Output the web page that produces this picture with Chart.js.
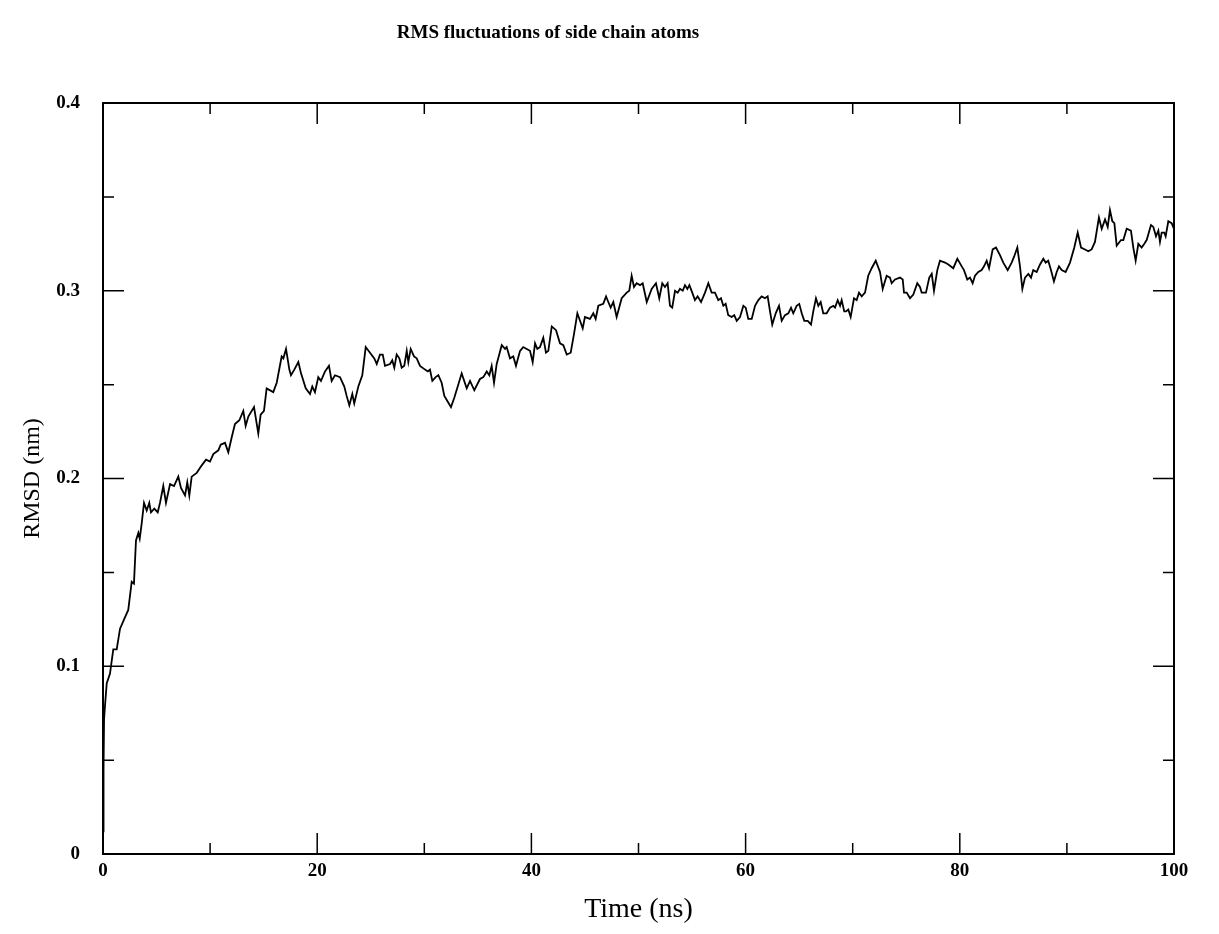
<!DOCTYPE html>
<html>
<head>
<meta charset="utf-8">
<script src="https://cdn.jsdelivr.net/npm/chart.js@4"></script>
<style>
  html, body { margin: 0; padding: 0; background: #fff; }
</style>
</head>
<body>
<canvas id="chart" width="1219" height="934"></canvas>
<script>
const chartTitle = "RMS fluctuations of side chain atoms"
const xTitle = "Time (ns)"
const yTitle = "RMSD (nm)"

const xMajorTicks = [0, 20, 40, 60, 80, 100]
const xMinorTicks = [10, 30, 50, 70, 90]
const yMajorTicks = [0, 0.1, 0.2, 0.3, 0.4]
const yMinorTicks = [0.05, 0.15, 0.25, 0.35]
const yTickLabels = ["0", "0.1", "0.2", "0.3", "0.4"]

// time (ns) and RMSD (nm)
const timeNs = [
  0, 0.05, 0.1, 0.2, 0.35, 0.65, 0.96, 1.28, 1.59, 2.05,
  2.36, 2.68, 2.89, 3.08, 3.3, 3.43, 3.61, 3.83, 4.08, 4.32,
  4.48, 4.79, 5.11, 5.32, 5.63, 5.88, 6.26, 6.63, 7.03, 7.28,
  7.66, 7.87, 8.06, 8.28, 8.75, 9.22, 9.62, 9.99, 10.3, 10.77,
  10.99, 11.39, 11.7, 12.02, 12.32, 12.73, 13.1, 13.32, 13.57, 14.1,
  14.5, 14.72, 15.03, 15.28, 15.9, 16.22, 16.68, 16.84, 17.09, 17.4,
  17.55, 17.86, 18.24, 18.49, 18.93, 19.33, 19.54, 19.79, 20.1, 20.35,
  20.73, 21.1, 21.35, 21.66, 22.13, 22.53, 22.75, 23, 23.28, 23.46,
  23.84, 24.21, 24.53, 24.93, 25.33, 25.56, 25.86, 26.12, 26.33, 26.8,
  27.01, 27.2, 27.42, 27.67, 27.89, 28.13, 28.36, 28.51, 28.73, 29.04,
  29.29, 29.6, 30.07, 30.32, 30.53, 30.75, 31.06, 31.31, 31.62, 31.87,
  32.18, 32.49, 32.8, 33.12, 33.49, 33.96, 34.27, 34.67, 35.2, 35.51,
  35.83, 36.07, 36.29, 36.51, 36.76, 37.23, 37.54, 37.69, 38, 38.31,
  38.56, 38.94, 39.24, 39.56, 39.87, 40.12, 40.34, 40.55, 40.8, 41.11,
  41.36, 41.58, 41.9, 42.3, 42.67, 42.98, 43.3, 43.67, 43.98, 44.29,
  44.54, 44.79, 45, 45.47, 45.78, 46, 46.25, 46.71, 46.97, 47.18,
  47.4, 47.65, 47.96, 48.43, 48.9, 49.14, 49.36, 49.58, 49.83, 50.14,
  50.39, 50.77, 51.23, 51.63, 51.94, 52.22, 52.47, 52.72, 52.94, 53.15,
  53.41, 53.66, 53.87, 54.13, 54.34, 54.56, 54.75, 55.02, 55.27, 55.52,
  55.84, 56.21, 56.52, 56.83, 57.14, 57.45, 57.7, 57.92, 58.14, 58.38,
  58.7, 58.94, 59.17, 59.48, 59.79, 60.01, 60.25, 60.57, 60.88, 61.19,
  61.5, 61.81, 62.06, 62.28, 62.49, 62.81, 63.12, 63.37, 63.68, 63.99,
  64.24, 64.45, 64.77, 65.01, 65.24, 65.48, 65.8, 66.11, 66.32, 66.57,
  66.79, 67.01, 67.25, 67.57, 67.88, 68.19, 68.35, 68.6, 68.82, 68.97,
  69.21, 69.37, 69.59, 69.81, 70.12, 70.37, 70.59, 70.84, 71.15, 71.45,
  71.77, 72.15, 72.55, 72.8, 73.17, 73.48, 73.64, 73.95, 74.42, 74.67,
  74.79, 75.04, 75.35, 75.66, 76.03, 76.28, 76.44, 76.84, 77.15, 77.38,
  77.59, 77.9, 78.15, 78.62, 78.93, 79.39, 79.77, 80.18, 80.39, 80.7,
  80.95, 81.2, 81.42, 81.73, 82.04, 82.26, 82.51, 82.73, 83.07, 83.38,
  83.75, 84.06, 84.47, 84.84, 85.06, 85.37, 85.62, 85.84, 86.09, 86.4,
  86.65, 86.86, 87.18, 87.49, 87.8, 88.02, 88.26, 88.51, 88.79, 89.05,
  89.26, 89.51, 89.88, 90.29, 90.69, 91.01, 91.32, 91.69, 92, 92.31,
  92.62, 92.99, 93.25, 93.56, 93.81, 94.02, 94.24, 94.43, 94.65, 95.05,
  95.27, 95.58, 95.98, 96.2, 96.42, 96.67, 96.98, 97.23, 97.45, 97.85,
  98.07, 98.32, 98.54, 98.69, 98.85, 99.09, 99.22, 99.47, 99.78, 100
]
const rmsdNm = [
  0.012, 0.045, 0.072, 0.080, 0.091, 0.096, 0.109, 0.109, 0.120, 0.126,
  0.130, 0.145, 0.144, 0.167, 0.171, 0.168, 0.176, 0.187, 0.183, 0.187,
  0.182, 0.184, 0.182, 0.187, 0.196, 0.187, 0.197, 0.196, 0.201, 0.195,
  0.191, 0.198, 0.191, 0.201, 0.203, 0.207, 0.210, 0.209, 0.213, 0.215,
  0.218, 0.219, 0.214, 0.222, 0.229, 0.231, 0.236, 0.228, 0.233, 0.238,
  0.224, 0.234, 0.236, 0.248, 0.246, 0.251, 0.265, 0.264, 0.269, 0.258,
  0.255, 0.258, 0.262, 0.256, 0.248, 0.245, 0.249, 0.246, 0.254, 0.252,
  0.257, 0.260, 0.252, 0.255, 0.254, 0.249, 0.244, 0.239, 0.245, 0.240,
  0.249, 0.255, 0.270, 0.267, 0.264, 0.261, 0.266, 0.266, 0.260, 0.261,
  0.263, 0.259, 0.266, 0.264, 0.259, 0.260, 0.268, 0.262, 0.269, 0.265,
  0.264, 0.260, 0.258, 0.257, 0.258, 0.252, 0.254, 0.255, 0.251, 0.244,
  0.241, 0.238, 0.243, 0.249, 0.256, 0.248, 0.252, 0.247, 0.253, 0.254,
  0.257, 0.255, 0.260, 0.251, 0.261, 0.271, 0.269, 0.270, 0.264, 0.265,
  0.260, 0.268, 0.270, 0.269, 0.268, 0.262, 0.272, 0.269, 0.270, 0.275,
  0.267, 0.268, 0.281, 0.279, 0.272, 0.271, 0.266, 0.267, 0.277, 0.288,
  0.284, 0.280, 0.286, 0.285, 0.288, 0.285, 0.292, 0.293, 0.297, 0.294,
  0.291, 0.294, 0.286, 0.296, 0.299, 0.300, 0.308, 0.302, 0.304, 0.303,
  0.304, 0.294, 0.301, 0.304, 0.296, 0.304, 0.302, 0.304, 0.292, 0.291,
  0.300, 0.299, 0.301, 0.300, 0.303, 0.301, 0.303, 0.299, 0.295, 0.297,
  0.294, 0.299, 0.304, 0.299, 0.299, 0.295, 0.296, 0.292, 0.293, 0.287,
  0.286, 0.287, 0.284, 0.286, 0.292, 0.291, 0.285, 0.285, 0.292, 0.295,
  0.297, 0.296, 0.297, 0.289, 0.282, 0.288, 0.292, 0.284, 0.287, 0.288,
  0.291, 0.288, 0.292, 0.293, 0.288, 0.284, 0.284, 0.282, 0.289, 0.296,
  0.292, 0.294, 0.288, 0.288, 0.291, 0.292, 0.291, 0.295, 0.292, 0.295,
  0.289, 0.289, 0.290, 0.286, 0.296, 0.295, 0.299, 0.297, 0.299, 0.308,
  0.312, 0.316, 0.310, 0.301, 0.308, 0.307, 0.304, 0.306, 0.307, 0.306,
  0.299, 0.299, 0.296, 0.298, 0.304, 0.302, 0.299, 0.299, 0.307, 0.309,
  0.300, 0.311, 0.316, 0.315, 0.314, 0.312, 0.317, 0.313, 0.311, 0.306,
  0.307, 0.304, 0.308, 0.310, 0.311, 0.313, 0.316, 0.312, 0.322, 0.323,
  0.319, 0.315, 0.311, 0.315, 0.318, 0.323, 0.313, 0.301, 0.307, 0.309,
  0.307, 0.311, 0.310, 0.314, 0.317, 0.315, 0.316, 0.311, 0.305, 0.310,
  0.313, 0.311, 0.310, 0.315, 0.323, 0.331, 0.323, 0.322, 0.321, 0.322,
  0.326, 0.339, 0.333, 0.338, 0.334, 0.343, 0.337, 0.336, 0.324, 0.327,
  0.327, 0.333, 0.332, 0.323, 0.316, 0.325, 0.323, 0.325, 0.327, 0.335,
  0.334, 0.329, 0.332, 0.326, 0.331, 0.331, 0.329, 0.337, 0.336, 0.333
]

const serif = "'Liberation Serif', 'DejaVu Serif', serif"

// box + inward tick marks on all four sides
const frameTicks = {
  id: "frameTicks",
  afterDatasetsDraw(chart) {
    const { ctx, chartArea: a, scales: { x, y } } = chart
    ctx.save()
    ctx.strokeStyle = "#000"
    ctx.lineWidth = 2
    ctx.strokeRect(a.left, a.top, a.right - a.left, a.bottom - a.top)
    ctx.lineWidth = 1.5
    ctx.beginPath()
    const markX = (v, len) => {
      const px = x.getPixelForValue(v)
      ctx.moveTo(px, a.bottom); ctx.lineTo(px, a.bottom - len)
      ctx.moveTo(px, a.top); ctx.lineTo(px, a.top + len)
    }
    const markY = (v, len) => {
      const py = y.getPixelForValue(v)
      ctx.moveTo(a.left, py); ctx.lineTo(a.left + len, py)
      ctx.moveTo(a.right, py); ctx.lineTo(a.right - len, py)
    }
    xMajorTicks.forEach(v => markX(v, 21))
    xMinorTicks.forEach(v => markX(v, 11))
    yMajorTicks.forEach(v => markY(v, 21))
    yMinorTicks.forEach(v => markY(v, 11))
    ctx.stroke()
    ctx.restore()
  }
}

const plotTitle = {
  id: "plotTitle",
  afterDraw(chart) {
    const ctx = chart.ctx
    ctx.save()
    ctx.fillStyle = "#000"
    ctx.font = "bold 19px " + serif
    ctx.textAlign = "center"
    ctx.textBaseline = "middle"
    ctx.fillText(chartTitle, 548, 33)
    ctx.restore()
  }
}

new Chart(document.getElementById("chart"), {
  type: "line",
  data: {
    datasets: [{
      data: timeNs.map((t, i) => ({ x: t, y: rmsdNm[i] })),
      borderColor: "#000",
      borderWidth: 1.8,
      pointRadius: 0,
      tension: 0,
      fill: false
    }]
  },
  options: {
    responsive: false,
    animation: false,
    layout: { padding: { top: 103, right: 45, left: 0, bottom: 0 } },
    plugins: {
      legend: { display: false },
      tooltip: { enabled: false }
    },
    scales: {
      x: {
        type: "linear",
        min: 0,
        max: 100,
        afterFit: s => { s.height = 80 },
        afterBuildTicks: s => { s.ticks = xMajorTicks.map(v => ({ value: v })) },
        grid: { display: false, drawTicks: false },
        border: { display: false },
        ticks: {
          color: "#000",
          padding: 6,
          maxRotation: 0,
          font: { family: serif, size: 19, weight: "bold" }
        },
        title: {
          display: true,
          text: xTitle,
          color: "#000",
          padding: { top: 0, bottom: 8 },
          font: { family: serif, size: 28 }
        }
      },
      y: {
        type: "linear",
        min: 0,
        max: 0.4,
        afterFit: s => { s.width = 103 },
        afterBuildTicks: s => { s.ticks = yMajorTicks.map(v => ({ value: v })) },
        grid: { display: false, drawTicks: false },
        border: { display: false },
        ticks: {
          color: "#000",
          padding: 23,
          callback: (v, i) => yTickLabels[i],
          font: { family: serif, size: 19, weight: "bold" }
        },
        title: {
          display: true,
          text: yTitle,
          color: "#000",
          padding: { top: 18, bottom: 0 },
          font: { family: serif, size: 24 }
        }
      }
    }
  },
  plugins: [frameTicks, plotTitle]
})
</script>
</body>
</html>
